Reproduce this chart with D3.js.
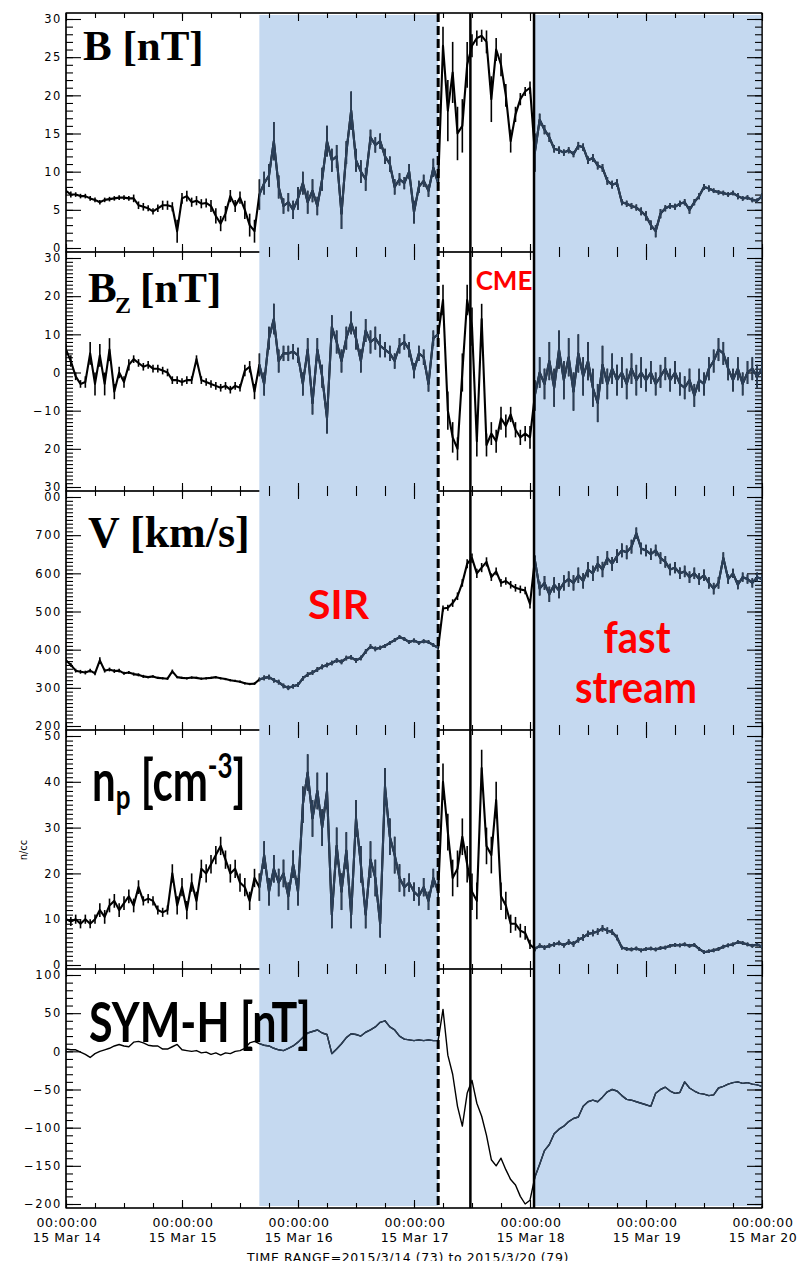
<!DOCTYPE html>
<html>
<head>
<meta charset="utf-8">
<script src="https://cdn.jsdelivr.net/npm/d3@7"></script>
<style>
body { margin: 0; background: #fff; }
.axis text { font-family: "DejaVu Sans"; font-size: 11.5px; letter-spacing: 1.6px; fill: #000; }
.xlab { font-family: "DejaVu Sans"; font-size: 12.5px; letter-spacing: 0.6px; text-anchor: middle; }
.serif { font-family: "Liberation Serif"; font-weight: bold; }
.sans { font-family: "Lato"; font-weight: bold; }
</style>
</head>
<body>
<div id="chart"></div>
<script>
// hourly samples, starting 2015-03-14 00:00 UT (145 points each)
var bTotal = [7.5, 7.0, 7.0, 6.8, 6.8, 6.5, 6.3, 6.0, 6.3, 6.4,
    6.5, 6.6, 6.6, 6.5, 6.5, 5.6, 5.4, 5.2, 4.8, 5.2,
    5.6, 5.6, 5.4, 2.2, 6.5, 6.8, 6.0, 6.2, 5.8, 5.9,
    5.5, 4.2, 3.2, 4.5, 6.8, 5.5, 6.6, 5.0, 3.0, 2.2,
    7.0, 8.5, 9.5, 14.0, 8.0, 5.5, 6.0, 5.0, 6.5, 8.5,
    6.0, 7.5, 5.5, 9.0, 14.0, 11.5, 12.0, 4.5, 12.5, 18.0,
    11.5, 10.0, 9.0, 14.5, 13.5, 14.0, 12.0, 11.0, 8.0, 9.0,
    8.5, 10.0, 4.7, 8.0, 8.8, 7.5, 10.5, 8.5, 26.5, 18.0,
    23.0, 15.0, 16.0, 24.0, 26.5, 27.5, 27.8, 27.0, 19.5, 26.0,
    24.0, 20.0, 14.0, 17.5, 19.5, 20.5, 21.0, 12.5, 16.8, 15.5,
    14.5, 13.0, 12.8, 12.5, 12.8, 12.3, 13.4, 13.2, 11.5, 11.8,
    10.8, 10.5, 8.8, 8.3, 8.5, 6.0, 5.8, 5.5, 5.3, 4.8,
    4.2, 3.0, 2.2, 4.5, 5.2, 5.5, 5.4, 5.8, 6.0, 5.0,
    6.0, 6.8, 8.0, 7.8, 7.5, 7.3, 7.2, 7.0, 7.2, 6.8,
    6.5, 6.6, 6.3, 6.2, 6.8];
// hourly half-range of the fluctuations around each value
var bSpread = [0.4, 0.4, 0.3, 0.3, 0.3, 0.3, 0.3, 0.3, 0.3, 0.3,
    0.3, 0.3, 0.3, 0.3, 0.5, 0.5, 0.5, 0.4, 0.4, 0.5,
    0.6, 0.6, 0.6, 1.5, 0.7, 0.7, 0.6, 0.6, 0.6, 0.6,
    0.8, 1.0, 1.0, 1.0, 0.8, 0.8, 0.8, 1.2, 1.5, 1.5,
    2.0, 1.5, 1.5, 2.5, 1.5, 1.0, 1.2, 1.2, 1.5, 1.5,
    1.5, 1.5, 1.2, 1.5, 2.0, 1.5, 1.5, 2.0, 1.5, 2.5,
    1.5, 1.5, 1.5, 1.0, 1.0, 1.0, 1.0, 1.0, 1.0, 0.8,
    0.8, 1.0, 1.5, 0.8, 0.8, 0.8, 1.2, 1.0, 2.5, 4.0,
    4.0, 3.5, 3.5, 3.0, 1.5, 1.0, 0.8, 1.5, 3.0, 1.5,
    1.5, 1.5, 1.5, 1.0, 0.8, 0.6, 0.8, 2.5, 0.8, 0.6,
    0.6, 0.5, 0.5, 0.4, 0.4, 0.4, 0.5, 0.5, 0.5, 0.5,
    0.5, 0.5, 0.5, 0.5, 0.5, 0.4, 0.4, 0.4, 0.4, 0.5,
    0.6, 0.6, 0.8, 0.6, 0.4, 0.4, 0.4, 0.4, 0.4, 0.5,
    0.4, 0.4, 0.4, 0.4, 0.3, 0.3, 0.3, 0.3, 0.3, 0.4,
    0.3, 0.3, 0.3, 0.3, 0.4];

var bZ = [6, 3, -1, -3, -2.5, 5, -3, 4.5, -3, 6,
    -5, 0, -2.5, 2, 3.5, 2.5, 1.5, 2, 1, 1,
    0.5, 0, -2, -2, -2.5, -2, -2, 3.5, -2, -2.5,
    -3, -3.5, -4, -3.5, -4.5, -3.5, -4, 0.5, 1.5, -5,
    2, -3, 9, 14, 3, 5, 5, 5.5, 4.5, -3,
    6, -8, 6, -1, -12, 12, 8, 3, 9, 13,
    9, 3, 11, 8, 9, 7, 6, 5, 3, 7,
    8, 6, 0.5, 5, 4, -3, 9, 10, 19, -10,
    -17, -20, 0, 19, 12, -18, 14, -19, -16, -18,
    -12, -14, -11, -15, -17, -16, -17, -6, 0, -3,
    3, -4, 6, -2, 4, -5, 5, -1, 3, -4,
    -8, 2, -3, 1, -2, 0, -3, 1, -2, 0,
    -2, 0, -3, -1, 1, -2, 0, -3, -4, -2,
    -6, -2, -3, 1, 3, 6, 5, 1, -2, 1,
    -3, 0, 1, -1, 1];
var bzSpread = [1.5, 1.5, 1, 1, 1.5, 3, 3, 3, 3, 3,
    2, 1.5, 1.5, 1.5, 1, 1, 1, 1, 1, 1,
    1, 1, 1, 1, 1, 1, 1, 1, 1, 1,
    1, 1, 1, 1, 1, 1, 1, 1.5, 1.5, 2,
    3, 3, 3, 4, 3, 2, 2, 2, 2, 3,
    3, 3, 3, 3, 4, 3, 3, 3, 3, 3,
    3, 3, 3, 3, 3, 3, 2, 2, 2, 2,
    2, 2, 2, 2, 2, 2, 2, 2, 4, 5,
    4, 3, 5, 4, 5, 4, 4, 3, 3, 3,
    3, 3, 2, 2, 2, 2, 3, 4, 4, 4,
    5, 5, 5, 5, 5, 5, 5, 5, 5, 5,
    5, 5, 4, 4, 4, 4, 4, 4, 4, 4,
    3, 3, 3, 3, 3, 3, 3, 3, 3, 3,
    3, 3, 3, 3, 3, 3, 3, 3, 3, 3,
    3, 3, 3, 3, 3];

var vSw = [372, 360, 345, 342, 340, 345, 338, 372, 345, 348,
    344, 345, 338, 340, 336, 334, 330, 328, 330, 326,
    325, 324, 343, 328, 326, 325, 327, 326, 324, 325,
    326, 328, 325, 323, 320, 318, 316, 312, 310, 311,
    322, 326, 328, 320, 315, 305, 300, 304, 308, 325,
    335, 340, 348, 355, 360, 365, 372, 368, 378, 380,
    372, 378, 395, 408, 402, 405, 410, 418, 425, 433,
    428, 420, 424, 418, 422, 420, 412, 405, 508, 510,
    522, 540, 575, 625, 640, 600, 615, 630, 590, 605,
    575, 580, 570, 562, 558, 555, 520, 635, 560, 575,
    545, 570, 555, 575, 585, 575, 595, 580, 610, 600,
    625, 610, 640, 625, 645, 660, 655, 670, 705, 665,
    660, 650, 660, 640, 630, 610, 615, 600, 605, 590,
    600, 585, 595, 575, 560, 575, 640, 585, 600, 570,
    590, 585, 575, 590, 585];
var vSpread = [6, 5, 5, 5, 5, 5, 5, 8, 5, 5,
    5, 5, 4, 4, 4, 4, 4, 3, 3, 3,
    3, 3, 5, 3, 3, 3, 3, 3, 3, 3,
    3, 3, 3, 3, 3, 3, 3, 3, 3, 3,
    5, 6, 6, 6, 6, 6, 6, 6, 6, 6,
    6, 6, 6, 6, 6, 6, 6, 6, 6, 6,
    6, 6, 6, 6, 6, 5, 5, 5, 5, 5,
    5, 5, 5, 5, 5, 5, 5, 5, 8, 8,
    10, 10, 10, 12, 12, 12, 12, 12, 10, 10,
    10, 10, 10, 10, 10, 10, 12, 12, 18, 18,
    20, 20, 20, 20, 20, 20, 20, 20, 20, 20,
    20, 20, 18, 18, 18, 18, 18, 18, 15, 15,
    15, 15, 15, 15, 15, 15, 15, 15, 15, 15,
    15, 15, 15, 15, 15, 15, 15, 12, 12, 12,
    12, 12, 12, 12, 12];

var nP = [10, 9.5, 10, 9, 10, 9, 10, 12, 10.5, 13,
    14, 12, 13.5, 15, 13, 17, 14, 14.5, 14, 12,
    11.5, 12, 20, 13, 17, 12, 18, 14, 21, 20,
    22, 24, 26, 23, 20, 21, 18, 17, 14, 19,
    17, 24, 16, 21, 18, 20, 15, 22, 16, 35,
    42, 32, 38, 30, 38, 11, 26, 16, 25, 11,
    32, 22, 11, 23, 19, 9, 39, 28, 24, 19,
    17, 18, 16, 15, 17, 14, 19, 16, 40, 29,
    19, 21, 28, 22, 16, 14, 43, 26, 24, 36,
    15, 13, 9, 9, 7.5, 7, 4.5, 3.5, 4.2, 3.8,
    4.2, 4.5, 4.8, 4.3, 5, 4.6, 5.5, 6, 6.8, 7,
    7.3, 8, 7.5, 7.2, 6, 3.8, 3.5, 3.4, 3.6, 3.2,
    3.5, 3.6, 3.4, 3.7, 3.8, 4.2, 4.4, 4.3, 4.5, 4.2,
    4.4, 3.5, 2.8, 3, 3.2, 3.5, 4, 4.3, 4.5, 5,
    4.8, 4.5, 4.2, 4.5, 4];
var npSpread = [1, 1, 1, 1, 1, 1, 1, 1.5, 1.5, 1.5,
    1.5, 1.5, 1.5, 1.5, 1.5, 1.5, 1, 1, 1, 1,
    1, 1, 2, 2, 2, 2, 2, 2, 2, 2,
    2, 2, 2, 2, 2, 2, 2, 2, 2, 2,
    3, 3, 3, 3, 3, 3, 3, 3, 3, 4,
    4, 4, 4, 4, 4, 3, 4, 4, 4, 3,
    4, 4, 3, 4, 4, 3, 4, 4, 4, 3,
    2, 2, 2, 2, 2, 2, 2, 2, 4, 4,
    4, 4, 4, 4, 4, 4, 4, 4, 4, 4,
    3, 3, 2, 1.5, 1.5, 1.5, 1, 0.5, 0.5, 0.5,
    0.5, 0.5, 0.5, 0.5, 0.6, 0.6, 0.6, 0.7, 0.7, 0.7,
    0.7, 0.7, 0.7, 0.6, 0.6, 0.4, 0.4, 0.4, 0.4, 0.4,
    0.4, 0.4, 0.4, 0.4, 0.4, 0.4, 0.4, 0.4, 0.4, 0.4,
    0.4, 0.4, 0.4, 0.4, 0.4, 0.4, 0.4, 0.4, 0.4, 0.4,
    0.4, 0.4, 0.4, 0.4, 0.4];

var symH = [3, 2, 2, -1, -4, -8, -3, 0, 2, 4,
    7, 9, 7, 6, 12, 13, 11, 8, 7, 7,
    3, 3, 6, 9, 2, 1, 0, 1, -2, -1,
    -4, -2, -5, -2, -3, 0, 1, 4, 11, 13,
    10, 8, 7, 4, 2, 1, 4, 7, 12, 18,
    24, 26, 28, 24, 22, -3, 3, 10, 18, 23,
    22, 20, 25, 28, 32, 38, 40, 32, 28, 20,
    16, 15, 14, 15, 14, 15, 14, 14, 55, -5,
    -30, -72, -98, -55, -38, -68, -85, -110, -142, -150,
    -140, -155, -168, -175, -190, -200, -195, -165, -148, -130,
    -122, -108, -102, -98, -92, -88, -86, -72, -66, -64,
    -66, -60, -53, -50, -52, -58, -63, -64, -66, -68,
    -70, -72, -55, -50, -47, -52, -55, -54, -40, -48,
    -52, -55, -56, -58, -57, -48, -46, -43, -41, -40,
    -42, -41, -43, -44, -46];

// y tick values and their printed labels (as they appear on the plot)
var bTicks = [0, 5, 10, 15, 20, 25, 30];
var bTickLabels = ["0", "5", "10", "15", "20", "25", "30"];
var bzTicks = [-30, -20, -10, 0, 10, 20, 30];
var bzTickLabels = ["30", "20", "\u221210", "0", "10", "20", "30"];
var vTicks = [200, 300, 400, 500, 600, 700, 800];
var vTickLabels = ["200", "300", "400", "500", "600", "700", "00"];
var npTicks = [0, 10, 20, 30, 40, 50];
var npTickLabels = ["0", "10", "20", "30", "40", "50"];
var symTicks = [-200, -150, -100, -50, 0, 50, 100];
var symTickLabels = ["\u2212200", "\u2212150", "\u2212100", "\u221250", "0", "50", "100"];

// intervals
var sirStart = new Date(Date.UTC(2015, 2, 15, 16, 0));
var shockTime = new Date(Date.UTC(2015, 2, 17, 5, 0));
var cmeStart = new Date(Date.UTC(2015, 2, 17, 11, 40));
var cmeEnd = new Date(Date.UTC(2015, 2, 18, 0, 50));
var t0 = new Date(Date.UTC(2015, 2, 14));
var t1 = new Date(Date.UTC(2015, 2, 20));
var shadeSpans = [[sirStart, shockTime], [cmeEnd, t1]];

var times = bTotal.map(function (d, i) { return new Date(t0.getTime() + i * 3600e3); });

var left = 66, right = 762, top0 = 13, panelH = 239;
var lineColor = "#000", shadeLineColor = "#2b3f58", shadeColor = "#c5d9f0";

var svg = d3.select("#chart").append("svg")
    .attr("width", 809)
    .attr("height", 1261);

var x = d3.scaleUtc().domain([t0, t1]).range([left, right]);

var panels = [
    {values: bTotal, spread: bSpread, domain: [0, 30], ticks: bTicks, labels: bTickLabels, minor: 30},
    {values: bZ, spread: bzSpread, domain: [-30, 30], ticks: bzTicks, labels: bzTickLabels, minor: 60},
    {values: vSw, spread: vSpread, domain: [200, 800], ticks: vTicks, labels: vTickLabels, minor: 60},
    {values: nP, spread: npSpread, domain: [0, 50], ticks: npTicks, labels: npTickLabels, minor: 50},
    {values: symH, spread: null, domain: [-200, 100], ticks: symTicks, labels: symTickLabels, minor: 30}
];
var bottom = top0 + panels.length * panelH;

var defs = svg.append("defs");
panels.forEach(function (p, i) {
    p.top = top0 + i * panelH;
    p.y = d3.scaleLinear().domain(p.domain).range([p.top + panelH - 4, p.top + 6]);
    defs.append("clipPath").attr("id", "clip" + i).append("rect")
        .attr("x", left).attr("y", p.top)
        .attr("width", right - left).attr("height", panelH);
});
var shadeClip = defs.append("clipPath").attr("id", "shadeClip");
shadeSpans.forEach(function (s) {
    shadeClip.append("rect")
        .attr("x", x(s[0])).attr("y", 0)
        .attr("width", x(s[1]) - x(s[0])).attr("height", 1261);
});

// panel frames (internal borders get covered by shading)
panels.forEach(function (p) {
    svg.append("rect")
        .attr("x", left).attr("y", p.top)
        .attr("width", right - left).attr("height", panelH)
        .attr("fill", "none").attr("stroke", "#000").attr("stroke-width", 1.2);
});

// shaded intervals
svg.append("g").selectAll("rect").data(shadeSpans).join("rect")
    .attr("x", function (s) { return x(s[0]); })
    .attr("y", top0 + 2)
    .attr("width", function (s) { return x(s[1]) - x(s[0]); })
    .attr("height", bottom - top0 - 4)
    .attr("fill", shadeColor);

// outer frame on top of shading
svg.append("g").attr("stroke", "#000").attr("stroke-width", 1.2)
    .selectAll("line").data([[left, top0, right, top0], [left, bottom, right, bottom],
        [left, top0, left, bottom], [right, top0, right, bottom]]).join("line")
    .attr("x1", function (d) { return d[0]; }).attr("y1", function (d) { return d[1]; })
    .attr("x2", function (d) { return d[2]; }).attr("y2", function (d) { return d[3]; });

function noDomain(g) { g.select(".domain").remove(); g.selectAll("line").attr("stroke-width", 1.1); }

var dayTicks = x.ticks(d3.utcDay.every(1));
var hourTicks = x.ticks(d3.utcHour.every(6));

function drawSeries(g, p, color) {
    var line = d3.line()
        .x(function (d, k) { return x(times[k]); })
        .y(function (d) { return p.y(d); });
    g.append("path").datum(p.values)
        .attr("d", line).attr("fill", "none")
        .attr("stroke", color).attr("stroke-width", p.spread ? 2.1 : 1.4)
        .attr("stroke-linejoin", "round");
    if (p.spread) {
        g.append("g").selectAll("line").data(p.values).join("line")
            .attr("x1", function (d, k) { return x(times[k]); })
            .attr("x2", function (d, k) { return x(times[k]); })
            .attr("y1", function (d, k) { return p.y(d - p.spread[k]); })
            .attr("y2", function (d, k) { return p.y(d + p.spread[k]); })
            .attr("stroke", color).attr("stroke-width", 1.6);
    }
}

panels.forEach(function (p, i) {
    var ax = svg.append("g").attr("class", "axis");
    ax.append("g").attr("transform", "translate(" + left + ",0)")
        .call(d3.axisLeft(p.y).tickValues(p.ticks)
            .tickFormat(function (d, k) { return p.labels[k]; })
            .tickSizeInner(-15).tickSizeOuter(0).tickPadding(4))
        .call(noDomain);
    ax.append("g").attr("transform", "translate(" + left + ",0)")
        .call(d3.axisLeft(p.y).tickValues(p.y.ticks(p.minor)).tickSize(-7).tickFormat(""))
        .call(noDomain);
    ax.append("g").attr("transform", "translate(" + right + ",0)")
        .call(d3.axisRight(p.y).tickValues(p.ticks).tickSize(-15).tickFormat(""))
        .call(noDomain);
    ax.append("g").attr("transform", "translate(" + right + ",0)")
        .call(d3.axisRight(p.y).tickValues(p.y.ticks(p.minor)).tickSize(-7).tickFormat(""))
        .call(noDomain);
    ax.append("g").attr("transform", "translate(0," + (p.top + panelH) + ")")
        .call(d3.axisBottom(x).tickValues(dayTicks).tickSize(-8).tickFormat(""))
        .call(noDomain);
    ax.append("g").attr("transform", "translate(0," + (p.top + panelH) + ")")
        .call(d3.axisBottom(x).tickValues(hourTicks).tickSize(-5).tickFormat(""))
        .call(noDomain);
    ax.append("g").attr("transform", "translate(0," + p.top + ")")
        .call(d3.axisTop(x).tickValues(dayTicks).tickSize(-8).tickFormat(""))
        .call(noDomain);
    ax.append("g").attr("transform", "translate(0," + p.top + ")")
        .call(d3.axisTop(x).tickValues(hourTicks).tickSize(-5).tickFormat(""))
        .call(noDomain);

    // data: black outside the shaded intervals, dark blue inside
    var g = svg.append("g").attr("clip-path", "url(#clip" + i + ")");
    drawSeries(g, p, lineColor);
    drawSeries(g.append("g").attr("clip-path", "url(#shadeClip)"), p, shadeLineColor);
});

// x labels
var xl = svg.append("g").selectAll("g").data(dayTicks).join("g")
    .attr("transform", function (d) { return "translate(" + (x(d) + 1) + ",0)"; });
xl.append("text").attr("class", "xlab").attr("y", 1227).text(d3.utcFormat("%H:%M:%S"));
xl.append("text").attr("class", "xlab").attr("y", 1242).text(d3.utcFormat("%y %b %d"));
svg.append("text").attr("class", "xlab")
    .attr("x", 408).attr("y", 1262)
    .text("TIME RANGE=2015/3/14 (73) to 2015/3/20 (79)");

// event boundaries
svg.append("line")
    .attr("x1", x(shockTime)).attr("x2", x(shockTime))
    .attr("y1", top0).attr("y2", bottom)
    .attr("stroke", "#000").attr("stroke-width", 3).attr("stroke-dasharray", "9,4");
svg.append("g").selectAll("line").data([cmeStart, cmeEnd]).join("line")
    .attr("x1", function (d) { return x(d); }).attr("x2", function (d) { return x(d); })
    .attr("y1", top0).attr("y2", bottom)
    .attr("stroke", "#000").attr("stroke-width", 2.5);

// panel titles
svg.append("text").attr("class", "serif").attr("x", 83).attr("y", 60)
    .attr("font-size", 43).text("B [nT]");
svg.append("text").attr("class", "serif").attr("x", 88).attr("y", 302)
    .attr("font-size", 43).text("B");
svg.append("text").attr("class", "serif").attr("x", 115).attr("y", 313)
    .attr("font-size", 24).text("Z");
svg.append("text").attr("class", "serif").attr("x", 140).attr("y", 302)
    .attr("font-size", 43).text("[nT]");
svg.append("text").attr("class", "serif").attr("x", 88).attr("y", 547)
    .attr("font-size", 44).text("V [km/s]");

var np = svg.append("text").attr("class", "sans")
    .attr("transform", "translate(92,801) scale(1,1.35)")
    .attr("font-size", 42);
np.append("tspan").text("n");
np.append("tspan").attr("font-size", 26).attr("dy", 6).text("p");
np.append("tspan").attr("dy", -6).text(" [cm");
np.append("tspan").attr("font-size", 26).attr("dy", -17).text("-3");
np.append("tspan").attr("dy", 17).text("]");

svg.append("text").attr("class", "sans")
    .attr("transform", "translate(89,1042) scale(1,1.3)")
    .attr("font-size", 43).text("SYM-H [nT]");

svg.append("text").attr("transform", "translate(27,850) rotate(-90)")
    .attr("font-family", "DejaVu Sans").attr("font-size", 10)
    .attr("text-anchor", "middle").text("n/cc");

// region labels
svg.append("text").attr("class", "sans").attr("fill", "#ff0000")
    .attr("x", 308).attr("y", 619).attr("font-size", 41).text("SIR");
svg.append("text").attr("class", "sans").attr("fill", "#ff0000")
    .attr("text-anchor", "middle").attr("transform", "translate(637,653) scale(1,1.1)")
    .attr("font-size", 40).text("fast");
svg.append("text").attr("class", "sans").attr("fill", "#ff0000")
    .attr("text-anchor", "middle").attr("transform", "translate(636,703) scale(1,1.1)")
    .attr("font-size", 40).text("stream");
svg.append("text").attr("class", "sans").attr("fill", "#ff0000")
    .attr("text-anchor", "middle").attr("x", 504).attr("y", 290)
    .attr("font-size", 26).text("CME");
</script>
</body>
</html>
